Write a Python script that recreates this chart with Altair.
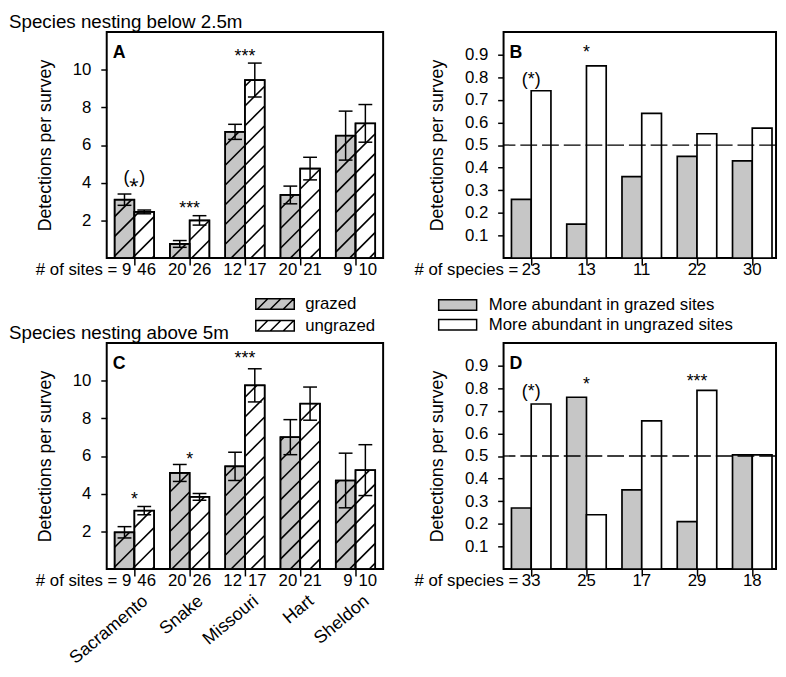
import math
import altair as alt
import pandas as pd

FONT = "Liberation Sans"

# ---------------- data ----------------
sites = ["Sacramento", "Snake", "Missouri", "Hart", "Sheldon"]
treatments = ["grazed", "ungrazed"]
abundance = ["More abundant in grazed sites", "More abundant in ungrazed sites"]

# Panel A: species nesting below 2.5 m (mean detections per survey, +/- SE)
a_grazed = [3.1, 0.75, 6.7, 3.35, 6.5]
a_grazed_se = [0.3, 0.18, 0.4, 0.47, 1.3]
a_ungrazed = [2.45, 2.0, 9.45, 4.75, 7.15]
a_ungrazed_se = [0.1, 0.25, 0.9, 0.6, 1.0]
sites_grazed = [9, 20, 12, 20, 9]
sites_ungrazed = [46, 26, 17, 21, 10]
a_sig = ["(\u204e)", "***", "***", "", ""]
a_sig_y = [4.0, 2.35, 10.4, 0, 0]

# Panel C: species nesting above 5 m
c_grazed = [1.95, 5.1, 5.45, 7.0, 4.7]
c_grazed_se = [0.3, 0.45, 0.75, 0.93, 1.45]
c_ungrazed = [3.1, 3.83, 9.75, 8.78, 5.25]
c_ungrazed_se = [0.22, 0.18, 0.88, 0.88, 1.35]
c_sig = ["*", "*", "***", "", ""]
c_sig_y = [3.4, 5.5, 10.9, 0, 0]

# Panel B: proportion of species
b_grazed = [0.26, 0.15, 0.36, 0.45, 0.43]
b_ungrazed = [0.74, 0.85, 0.64, 0.55, 0.575]
b_species = [23, 13, 11, 22, 30]
b_sig = ["(*)", "*", "", "", ""]
b_sig_y = [0.766, 0.883, 0, 0, 0]

# Panel D
d_grazed = [0.27, 0.76, 0.35, 0.21, 0.505]
d_ungrazed = [0.73, 0.24, 0.655, 0.79, 0.505]
d_species = [33, 25, 17, 29, 18]
d_sig = ["(*)", "*", "", "***", ""]
d_sig_y = [0.76, 0.794, 0, 0.807, 0]

reference_line = [0.5]
panel_letters = ["A", "B", "C", "D"]
titles = ["Species nesting below 2.5m", "Species nesting above 5m"]
axis_title = "Detections per survey"

# ---------------- layout / style ----------------
W_AC, W_BD, H = 280, 276, 229
NG = len(sites)
X_DOMAIN_AC = [0, NG]
X_DOMAIN_BD = [0, 4.93]
BAR_PX = 20
CAP_PX = 7
HATCH_PX = 20
GRAY = "#c6c6c6"

HATCH_SWATCH = ("M-2,-0.55H2V0.55H-2Z M-1.85,0.55L-0.75,-0.55 "
                "M-0.5,0.55L0.6,-0.55 M0.85,0.55L1.95,-0.55")
PLAIN_SWATCH = "M-2,-0.55H2V0.55H-2Z"


def bar_table(g, u, labels, ppx, g_se=None, u_se=None):
    bw = BAR_PX / ppx
    cap = CAP_PX / ppx
    rows = []
    for i in range(NG):
        c = i + 0.5
        for t, vals, ses, x0 in ((labels[0], g, g_se, c - bw), (labels[1], u, u_se, c)):
            r = dict(group=i, treatment=t, x0=x0, x1=x0 + bw, xc=x0 + bw / 2, value=vals[i])
            if ses is not None:
                r["lo"] = vals[i] - ses[i]
                r["hi"] = vals[i] + ses[i]
                r["cl"] = r["xc"] - cap
                r["cr"] = r["xc"] + cap
            rows.append(r)
    return pd.DataFrame(rows)


def hatch_table(bars, ppx, ymax):
    ppy = H / ymax
    segs = []
    for _, b in bars.iterrows():
        X0, X1, HH = b.x0 * ppx, b.x1 * ppx, b.value * ppy
        kmin = math.floor((X0 - HH) / HATCH_PX) - 1
        kmax = math.ceil(X1 / HATCH_PX) + 1
        for k in range(kmin, kmax + 1):
            c = k * HATCH_PX + 6
            xa, xb = max(X0, c), min(X1, c + HH)
            if xb - xa > 0.8:
                segs.append(dict(x=xa / ppx, x2=xb / ppx, y=(xa - c) / ppy, y2=(xb - c) / ppy))
    return pd.DataFrame(segs)


def sig_table(sig, sig_y):
    return pd.DataFrame([dict(xc=i + 0.5, y=sig_y[i], t=s) for i, s in enumerate(sig) if s])


def x_axis(labels=False):
    kw = dict(values=[i + 0.5 for i in range(NG)], title=None, domain=False, grid=False,
              tickSize=7, tickWidth=1.5, tickColor="black", labels=labels)
    if labels:
        expr = "[" + ",".join("'%s'" % s for s in sites) + "][floor(datum.value)]"
        kw.update(labelExpr=expr, labelAngle=320, labelAlign="right", labelBaseline="middle",
                  labelPadding=23, labelOffset=11, labelFontSize=18, labelFlush=False,
                  labelOverlap=False, labelColor="black", labelFont=FONT)
    return alt.Axis(**kw)


def y_axis(values, fmt):
    return alt.Axis(values=values, format=fmt, title=axis_title, domain=False, grid=False,
                    tickSize=6, tickWidth=1.5, tickColor="black", labelPadding=10,
                    labelFontSize=17, labelColor="black", titleFontSize=18,
                    titleFontWeight="normal", titlePadding=18, titleColor="black",
                    labelFont=FONT, titleFont=FONT)


def panel_sites(g, gse, u, use, sig, sig_y, letter, title, site_labels, show_legend):
    xs = alt.Scale(domain=X_DOMAIN_AC, nice=False, zero=False)
    ys = alt.Scale(domain=[0, 12], nice=False)
    ppx = W_AC / (X_DOMAIN_AC[1] - X_DOMAIN_AC[0])
    xa = x_axis(site_labels)
    ya = y_axis([2, 4, 6, 8, 10], "d")
    bars = bar_table(g, u, treatments, ppx, gse, use)
    hatch = hatch_table(bars, ppx, 12)
    if show_legend:
        leg = alt.Legend(orient="none", legendX=151, legendY=265, title=None,
                         symbolType=HATCH_SWATCH, symbolSize=380, symbolStrokeColor="black",
                         symbolStrokeWidth=1.5, labelFontSize=17, labelFont=FONT,
                         labelColor="black", symbolOffset=9, labelOffset=20, labelLimit=400,
                         rowPadding=3, padding=0)
    else:
        leg = None
    fill = alt.Fill("treatment:N", scale=alt.Scale(domain=treatments, range=[GRAY, "white"]),
                    legend=leg)
    base = alt.Chart(bars)
    l_bars = base.mark_rect(stroke="black", strokeWidth=1.5).encode(
        x=alt.X("x0:Q", scale=xs, axis=xa), x2="x1:Q",
        y=alt.Y("value:Q", scale=ys, axis=ya), y2=alt.datum(0),
        fill=fill)
    l_hatch = alt.Chart(hatch).mark_rule(color="black", strokeWidth=1.6).encode(
        x=alt.X("x:Q", scale=xs, axis=xa), x2="x2:Q",
        y=alt.Y("y:Q", scale=ys, axis=ya), y2="y2:Q")
    l_outline = base.mark_rect(fillOpacity=0, stroke="black", strokeWidth=1.7).encode(
        x=alt.X("x0:Q", scale=xs, axis=xa), x2="x1:Q",
        y=alt.Y("value:Q", scale=ys, axis=ya), y2=alt.datum(0))
    l_err = base.mark_rule(color="black", strokeWidth=1.5).encode(
        x=alt.X("xc:Q", scale=xs, axis=xa),
        y=alt.Y("lo:Q", scale=ys, axis=ya), y2="hi:Q")
    l_cap_lo = base.mark_rule(color="black", strokeWidth=1.5).encode(
        x=alt.X("cl:Q", scale=xs, axis=xa), x2="cr:Q",
        y=alt.Y("lo:Q", scale=ys, axis=ya))
    l_cap_hi = base.mark_rule(color="black", strokeWidth=1.5).encode(
        x=alt.X("cl:Q", scale=xs, axis=xa), x2="cr:Q",
        y=alt.Y("hi:Q", scale=ys, axis=ya))
    nums = pd.DataFrame(dict(
        xc=[i + 0.5 for i in range(NG)],
        g=[("# of sites = %d" % n) if i == 0 else str(n) for i, n in enumerate(sites_grazed)],
        u=[str(n) for n in sites_ungrazed]))
    l_ng = alt.Chart(nums).mark_text(align="right", baseline="middle", dx=-3, fontSize=17,
                                     font=FONT, color="black").encode(
        x=alt.X("xc:Q", scale=xs, axis=xa), y=alt.value(H + 12), text="g:N")
    l_nu = alt.Chart(nums).mark_text(align="left", baseline="middle", dx=3, fontSize=17,
                                     font=FONT, color="black").encode(
        x=alt.X("xc:Q", scale=xs, axis=xa), y=alt.value(H + 12), text="u:N")
    l_sig = alt.Chart(sig_table(sig, sig_y)).mark_text(
        align="center", baseline="alphabetic", fontSize=18, font=FONT, color="black").encode(
        x=alt.X("xc:Q", scale=xs, axis=xa), y=alt.Y("y:Q", scale=ys, axis=ya), text="t:N")
    l_letter = alt.Chart(pd.DataFrame({"t": [letter]})).mark_text(
        align="left", baseline="middle", fontSize=18, fontWeight="bold", font=FONT,
        color="black").encode(x=alt.value(6), y=alt.value(21), text="t:N")
    layers = [l_bars, l_hatch, l_outline, l_err, l_cap_lo, l_cap_hi, l_ng, l_nu, l_sig, l_letter]
    return alt.layer(*layers).properties(
        width=W_AC, height=H,
        title=alt.TitleParams(title, anchor="start", frame="group", dx=-99, offset=0,
                              fontSize=19, fontWeight="normal", font=FONT, color="black"))


def panel_species(g, u, species, sig, sig_y, letter, show_legend):
    xs = alt.Scale(domain=X_DOMAIN_BD, nice=False, zero=False)
    ys = alt.Scale(domain=[0, 1], nice=False)
    ppx = W_BD / (X_DOMAIN_BD[1] - X_DOMAIN_BD[0])
    xa = x_axis(False)
    ya = y_axis([round(0.1 * k, 1) for k in range(1, 10)], ".1f")
    bars = bar_table(g, u, abundance, ppx)
    if show_legend:
        leg = alt.Legend(orient="none", legendX=-66, legendY=266, title=None,
                         symbolType=PLAIN_SWATCH, symbolSize=370, symbolStrokeColor="black",
                         symbolStrokeWidth=1.5, labelFontSize=17, labelFont=FONT,
                         labelColor="black", symbolOffset=9, labelOffset=21, labelLimit=400,
                         rowPadding=1, padding=0)
    else:
        leg = None
    fill = alt.Fill("treatment:N", scale=alt.Scale(domain=abundance, range=[GRAY, "white"]),
                    legend=leg)
    base = alt.Chart(bars)
    l_bars = base.mark_rect(stroke="black", strokeWidth=1.7).encode(
        x=alt.X("x0:Q", scale=xs, axis=xa), x2="x1:Q",
        y=alt.Y("value:Q", scale=ys, axis=ya),
        y2=alt.datum(0), fill=fill)
    l_ref = alt.Chart(pd.DataFrame({"y": reference_line})).mark_rule(
        color="black", strokeWidth=1.3, strokeDash=[17, 5]).encode(
        y=alt.Y("y:Q", scale=ys, axis=ya))
    nums = pd.DataFrame(dict(xc=[i + 0.5 for i in range(NG)], n=[str(s) for s in species]))
    l_n = alt.Chart(nums).mark_text(align="center", baseline="middle", fontSize=17,
                                    font=FONT, color="black").encode(
        x=alt.X("xc:Q", scale=xs, axis=xa), y=alt.value(H + 12), text="n:N")
    l_pre = alt.Chart(nums.head(1).assign(p="# of species =")).mark_text(
        align="right", baseline="middle", dx=-13, fontSize=17, font=FONT,
        color="black").encode(
        x=alt.X("xc:Q", scale=xs, axis=xa), y=alt.value(H + 12), text="p:N")
    l_sig = alt.Chart(sig_table(sig, sig_y)).mark_text(
        align="center", baseline="alphabetic", fontSize=18, font=FONT, color="black").encode(
        x=alt.X("xc:Q", scale=xs, axis=xa), y=alt.Y("y:Q", scale=ys, axis=ya), text="t:N")
    l_letter = alt.Chart(pd.DataFrame({"t": [letter]})).mark_text(
        align="left", baseline="middle", fontSize=18, fontWeight="bold", font=FONT,
        color="black").encode(x=alt.value(6), y=alt.value(21), text="t:N")
    return alt.layer(l_bars, l_ref, l_n, l_pre, l_sig, l_letter).properties(width=W_BD, height=H)


pA = panel_sites(a_grazed, a_grazed_se, a_ungrazed, a_ungrazed_se, a_sig, a_sig_y,
                 panel_letters[0], titles[0], False, True)
pC = panel_sites(c_grazed, c_grazed_se, c_ungrazed, c_ungrazed_se, c_sig, c_sig_y,
                 panel_letters[2], titles[1], True, False)
pB = panel_species(b_grazed, b_ungrazed, b_species, b_sig, b_sig_y, panel_letters[1], True)
pD = panel_species(d_grazed, d_ungrazed, d_species, d_sig, d_sig_y, panel_letters[3], False)

chart = alt.concat(pA, pB, pC, pD, columns=2, spacing={"row": 86, "column": 122},
                   bounds="flush").resolve_scale(fill="independent").resolve_legend(
    fill="independent").properties(
    padding={"left": 0, "top": 0, "right": 0, "bottom": 0}
).configure(font=FONT).configure_view(stroke="black", strokeWidth=2)

chart.save("out.html", embed_options={"renderer": "svg", "actions": False})
